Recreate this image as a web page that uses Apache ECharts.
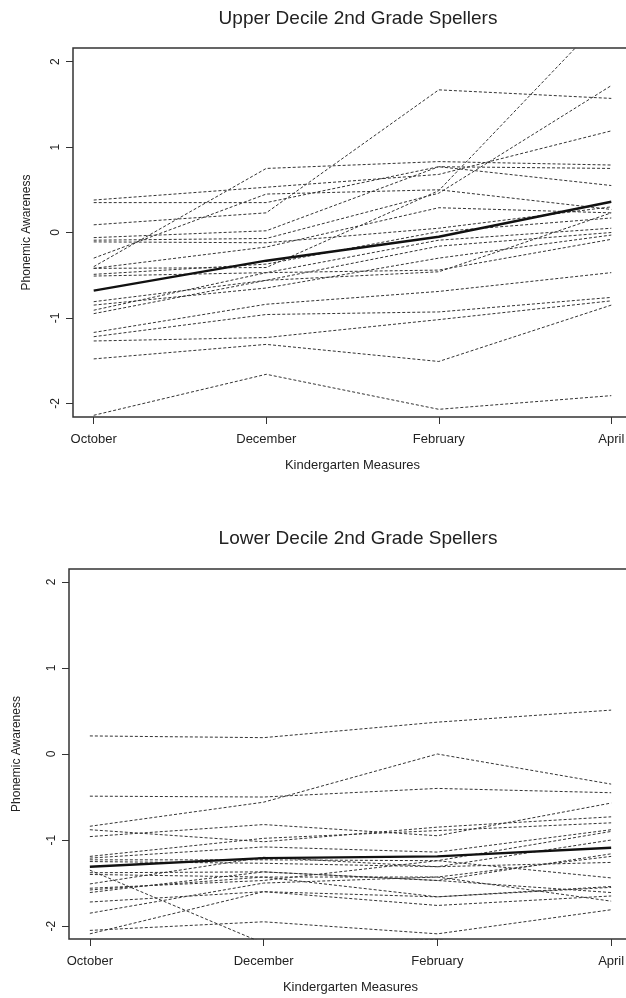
<!DOCTYPE html>
<html lang="en">
<head>
    <meta charset="UTF-8">
    <title>Phonemic Awareness</title>
    <script src="https://cdn.jsdelivr.net/npm/echarts@6.0.0/dist/echarts.min.js"></script>
    <style>
        html, body { margin: 0; padding: 0; background: #fff; }
    </style>
</head>
<body>

<div id="main" style="width:626px;height:998px"></div>
<script type="text/javascript">

    // measurement points (x = 1..4)
    var months = ['October', 'December', 'February', 'April'];
    var yTicks = [-2, -1, 0, 1, 2];

    // upper decile: one row per child, values at Oct, Dec, Feb, Apr
    var upperStudents = [
        [0.38, 0.53, 0.68, 1.19],
        [0.35, 0.35, 0.77, 0.55],
        [0.09, 0.23, 1.67, 1.57],
        [-0.06, 0.02, 0.77, 0.75],
        [-0.09, -0.07, 0.46, 1.72],
        [-0.11, -0.12, 0.05, 0.30],
        [-0.30, 0.45, 0.50, 0.27],
        [-0.40, 0.75, 0.83, 0.79],
        [-0.42, -0.17, 0.29, 0.23],
        [-0.42, -0.41, 0.49, 2.60],
        [-0.49, -0.37, 0.01, 0.17],
        [-0.51, -0.47, -0.09, 0.05],
        [-0.81, -0.56, -0.16, 0.00],
        [-0.85, -0.65, -0.30, -0.03],
        [-0.91, -0.47, -0.44, -0.08],
        [-0.95, -0.56, -0.46, 0.23],
        [-1.17, -0.84, -0.69, -0.47],
        [-1.22, -0.96, -0.93, -0.76],
        [-1.27, -1.23, -1.02, -0.80],
        [-1.48, -1.31, -1.51, -0.85],
        [-2.14, -1.66, -2.07, -1.91]
    ];
    var upperMean = [-0.68, -0.33, -0.05, 0.36];

    // lower decile
    var lowerStudents = [
        [0.21, 0.19, 0.37, 0.51],
        [-0.49, -0.50, -0.40, -0.45],
        [-0.84, -0.56, 0.00, -0.35],
        [-0.88, -1.02, -0.85, -0.73],
        [-0.96, -0.82, -0.95, -0.57],
        [-1.19, -0.98, -0.89, -0.80],
        [-1.21, -1.08, -1.14, -0.88],
        [-1.23, -1.23, -1.24, -0.90],
        [-1.25, -1.27, -1.31, -1.00],
        [-1.35, -2.20, -2.155, -2.40],
        [-1.38, -1.37, -1.47, -1.16],
        [-1.40, -1.43, -1.43, -1.19],
        [-1.51, -1.20, -1.31, -1.26],
        [-1.56, -1.47, -1.24, -1.44],
        [-1.58, -1.43, -1.66, -1.54],
        [-1.61, -1.37, -1.47, -1.61],
        [-1.72, -1.60, -1.76, -1.65],
        [-1.85, -1.50, -1.43, -1.71],
        [-2.05, -1.95, -2.09, -1.81],
        [-2.09, -1.60, -1.66, -1.55]
    ];
    var lowerMean = [-1.31, -1.21, -1.19, -1.09];

    var font = 'Liberation Sans, Arial, Helvetica, sans-serif';
    var ink = '#222';

    function toPoints(row) {
        return row.map(function (v, i) { return [i + 1, v]; });
    }

    function xAxisFor(idx) {
        return {
            type: 'value', gridIndex: idx, min: 0.88, max: 4.12,
            axisLine: {show: false, onZero: false},
            splitLine: {show: false},
            axisTick: {show: true, length: 7, customValues: [1, 2, 3, 4],
                lineStyle: {color: '#333', width: 1}},
            axisLabel: {customValues: [1, 2, 3, 4], margin: 16, fontSize: 13, color: ink, fontFamily: font,
                formatter: function (v) { return months[v - 1]; }},
            name: 'Kindergarten Measures', nameLocation: 'middle', nameGap: 42,
            nameTextStyle: {fontSize: 13, color: ink, fontFamily: font}
        };
    }

    function yAxisFor(idx, lim, gap) {
        return {
            type: 'value', gridIndex: idx, min: -lim, max: lim,
            axisLine: {show: false, onZero: false},
            splitLine: {show: false},
            axisTick: {show: true, length: 7, customValues: yTicks,
                lineStyle: {color: '#333', width: 1}},
            axisLabel: {customValues: yTicks, rotate: 90, margin: 11, fontSize: 12, color: ink, fontFamily: font},
            name: 'Phonemic Awareness', nameLocation: 'middle', nameGap: gap, nameRotate: 90,
            nameTextStyle: {fontSize: 12, color: ink, fontFamily: font}
        };
    }

    function panelSeries(rows, mean, idx) {
        var out = rows.map(function (row) {
            return {
                type: 'line', xAxisIndex: idx, yAxisIndex: idx,
                data: toPoints(row), symbol: 'none', silent: true, z: 2,
                lineStyle: {color: '#333', width: 1, type: [3, 2]}
            };
        });
        out.push({
            type: 'line', xAxisIndex: idx, yAxisIndex: idx,
            data: toPoints(mean), symbol: 'none', silent: true, z: 3,
            lineStyle: {color: '#111', width: 2.4}
        });
        return out;
    }

    window.onload = function () {
        var chart = echarts.init(document.getElementById('main'), null, {renderer: 'canvas'});

        var option = {
            animation: false,
            backgroundColor: '#fff',
            title: [
                {text: 'Upper Decile 2nd Grade Spellers', left: 353, textAlign: 'center', top: 4,
                    textStyle: {fontSize: 19, fontWeight: 'normal', color: ink, fontFamily: font}},
                {text: 'Lower Decile 2nd Grade Spellers', left: 353, textAlign: 'center', top: 524,
                    textStyle: {fontSize: 19, fontWeight: 'normal', color: ink, fontFamily: font}}
            ],
            grid: [
                {left: 73, top: 48, width: 559, height: 369, show: true, borderColor: '#333', borderWidth: 1.5,
                    backgroundColor: 'transparent', outerBoundsMode: 'none', containLabel: false},
                {left: 69, top: 569, width: 563, height: 370, show: true, borderColor: '#333', borderWidth: 1.5,
                    backgroundColor: 'transparent', outerBoundsMode: 'none', containLabel: false}
            ],
            xAxis: [xAxisFor(0), xAxisFor(1)],
            yAxis: [yAxisFor(0, 2.16, 40), yAxisFor(1, 2.15, 46)],
            series: panelSeries(upperStudents, upperMean, 0).concat(panelSeries(lowerStudents, lowerMean, 1))
        };

        chart.setOption(option, true);
    };

</script>

</body>
</html>
